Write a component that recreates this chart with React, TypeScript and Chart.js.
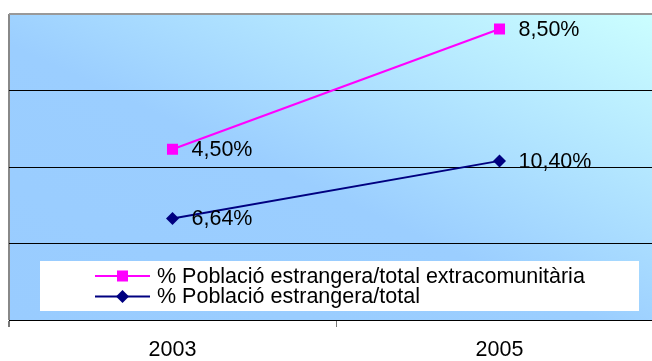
import React, { useEffect, useRef } from 'react';
import { Chart, registerables } from 'chart.js';

Chart.register(...registerables);

const categories = ['2003', '2005'];
const extraLabel = '% Població estrangera/total extracomunitària';
const totalLabel = '% Població estrangera/total';
const extraValues = [4.5, 8.5];
const totalValues = [6.64, 10.4];

const PINK = '#FF00FF';
const NAVY = '#000080';
const FONT = '"Liberation Sans", Arial, sans-serif';
const FS = 21.5;

const fmt = (v: number) => v.toFixed(2).replace('.', ',') + '%';

const bgPlugin = {
  id: 'bgGrad',
  beforeDraw(chart: any) {
    const { ctx, chartArea: a } = chart;
    ctx.save();
    ctx.translate(a.left, a.top);
    ctx.scale(a.right - a.left, a.bottom - a.top);
    const g = ctx.createLinearGradient(0, 1, 1, 0);
    g.addColorStop(0, '#99CCFF');
    g.addColorStop(0.45, '#9BCEFF');
    g.addColorStop(1, '#CCFFFF');
    ctx.fillStyle = g;
    ctx.fillRect(0, 0, 1, 1);
    ctx.restore();
  },
};

const labelPlugin = {
  id: 'valLabels',
  afterDatasetsDraw(chart: any) {
    const { ctx } = chart;
    ctx.save();
    ctx.font = `${FS}px ${FONT}`;
    ctx.fillStyle = '#000';
    ctx.textBaseline = 'middle';
    ctx.textAlign = 'left';
    chart.data.datasets.forEach((ds: any, i: number) => {
      const meta = chart.getDatasetMeta(i);
      meta.data.forEach((pt: any, j: number) => {
        ctx.fillText(fmt(ds.data[j]), pt.x + 19, pt.y + 1);
      });
    });
    ctx.restore();
  },
};

const legendPlugin = {
  id: 'innerLegend',
  afterDatasetsDraw(chart: any) {
    const { ctx, chartArea: a } = chart;
    const bx = a.left + 31;
    const by = a.bottom - 59;
    const bw = 599;
    const bh = 50;
    ctx.save();
    ctx.fillStyle = '#FFFFFF';
    ctx.fillRect(bx, by, bw, bh);
    ctx.font = `${FS}px ${FONT}`;
    ctx.textBaseline = 'middle';
    ctx.textAlign = 'left';
    chart.data.datasets.forEach((ds: any, i: number) => {
      const y = by + 15 + i * 20.5;
      const x0 = bx + 55;
      const x1 = bx + 110;
      const cx = (x0 + x1) / 2;
      ctx.strokeStyle = ds.borderColor;
      ctx.lineWidth = 2;
      ctx.beginPath();
      ctx.moveTo(x0, y);
      ctx.lineTo(x1, y);
      ctx.stroke();
      ctx.fillStyle = ds.borderColor;
      if (ds.pointStyle === 'rect') {
        ctx.fillRect(cx - 5.5, y - 5.5, 11, 11);
      } else {
        ctx.beginPath();
        ctx.moveTo(cx - 6.5, y);
        ctx.lineTo(cx, y - 6.5);
        ctx.lineTo(cx + 6.5, y);
        ctx.lineTo(cx, y + 6.5);
        ctx.closePath();
        ctx.fill();
      }
      ctx.fillStyle = '#000';
      ctx.fillText(ds.label, bx + 117, y + 1);
    });
    ctx.restore();
  },
};

export default function App() {
  const ref = useRef<HTMLCanvasElement | null>(null);
  useEffect(() => {
    if (!ref.current) return;
    const chart = new Chart(ref.current, {
      type: 'line',
      data: {
        labels: categories,
        datasets: [
          {
            label: extraLabel,
            data: extraValues,
            borderColor: PINK,
            backgroundColor: PINK,
            borderWidth: 2,
            pointStyle: 'rect',
            pointRadius: 7.8,
            pointBorderWidth: 0,
            pointBackgroundColor: PINK,
            yAxisID: 'y1',
          },
          {
            label: totalLabel,
            data: totalValues,
            borderColor: NAVY,
            backgroundColor: NAVY,
            borderWidth: 2,
            pointStyle: 'rectRot',
            pointRadius: 6.5,
            pointBorderWidth: 0,
            pointBackgroundColor: NAVY,
            yAxisID: 'y',
          },
        ],
      },
      options: {
        responsive: false,
        animation: false,
        layout: { padding: { left: 9, right: 9, top: 14, bottom: 0 } },
        plugins: { legend: { display: false }, tooltip: { enabled: false } },
        scales: {
          x: {
            type: 'category',
            offset: true,
            grid: {
              offset: true,
              drawOnChartArea: true,
              color: (c: any) => (c.index === 0 ? '#888888' : 'rgba(0,0,0,0)'),
              lineWidth: (c: any) => (c.index === 0 ? 2 : 1),
              tickColor: '#777777',
              tickLength: 7,
            },
            border: { display: true, color: '#000', width: 1 },
            ticks: {
              color: '#000',
              font: { family: FONT, size: FS },
              padding: 10,
              maxRotation: 0,
            },
            afterFit: (s: any) => {
              s.height = 41;
            },
          },
          y: {
            position: 'left',
            min: 0,
            max: 20,
            ticks: { stepSize: 5, display: false },
            grid: {
              drawTicks: false,
              color: (c: any) => (c.tick && c.tick.value === 20 ? '#999999' : '#000000'),
              lineWidth: (c: any) => (c.tick && c.tick.value === 20 ? 2 : 1),
            },
            border: { display: false },
          },
          y1: {
            position: 'right',
            display: false,
            min: -1.18,
            max: 9.0,
          },
        },
      },
      plugins: [bgPlugin, labelPlugin, legendPlugin],
    });
    return () => chart.destroy();
  }, []);
  return (
    <div style={{ position: 'fixed', left: 0, top: 0, width: 652, height: 361, overflow: 'hidden', background: '#fff' }}>
      <canvas ref={ref} width={672} height={361} style={{ display: 'block' }} />
    </div>
  );
}
